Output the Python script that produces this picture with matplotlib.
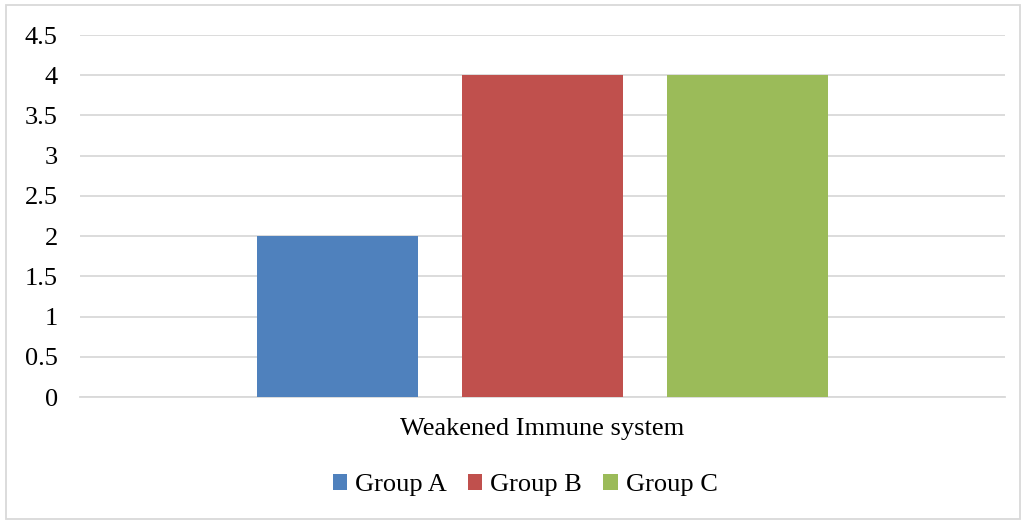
import matplotlib.pyplot as plt
from matplotlib.patches import Rectangle

category = 'Weakened Immune system'
groups = ['Group A', 'Group B', 'Group C']
values = [2, 4, 4]
colors = ['#4F81BD', '#C0504D', '#9BBB59']

plt.rcParams['font.family'] = ['Liberation Serif', 'DejaVu Serif']

fig = plt.figure(figsize=(10.22, 5.2), dpi=100)
ax = fig.add_axes([80 / 1022, 1 - 397 / 520, 925 / 1022, 362 / 520])

# three bars around one category, Excel style spacing
width = 0.175
offsets = [-0.2216, 0.0, 0.2216]
for name, val, col, off in zip(groups, values, colors, offsets):
    ax.bar(off, val, width=width, color=col, label=name, zorder=3)

ax.set_xlim(-0.5, 0.5)
ax.set_ylim(0, 4.5)
ax.set_yticks([0, 0.5, 1, 1.5, 2, 2.5, 3, 3.5, 4, 4.5])
ax.set_yticklabels(['0', '0.5', '1', '1.5', '2', '2.5', '3', '3.5', '4', '4.5'])
ax.set_xticks([0])
ax.set_xticklabels([category])
ax.tick_params(axis='y', length=0, pad=16, labelsize=19)
ax.tick_params(axis='x', length=0, pad=15, labelsize=19)
ax.yaxis.grid(True, color='#D9D9D9', linewidth=1.3, zorder=0)
for s in ['top', 'right', 'left']:
    ax.spines[s].set_visible(False)
ax.spines['bottom'].set_color('#D9D9D9')
ax.spines['bottom'].set_linewidth(1.3)

leg = fig.legend(loc='center', bbox_to_anchor=(525 / 1022, 1 - 485 / 520), ncol=3,
                 frameon=False, fontsize=19, handlelength=0.55, handleheight=0.55,
                 handletextpad=0.3, columnspacing=0.8)

# outer chart border
fig.patches.append(Rectangle((6 / 1022, 0.002), 1014 / 1022, 1 - 5 / 520 - 0.002,
                             transform=fig.transFigure, fill=False,
                             edgecolor='#D9D9D9', linewidth=1.3))

fig.savefig('out.png', dpi=100)
